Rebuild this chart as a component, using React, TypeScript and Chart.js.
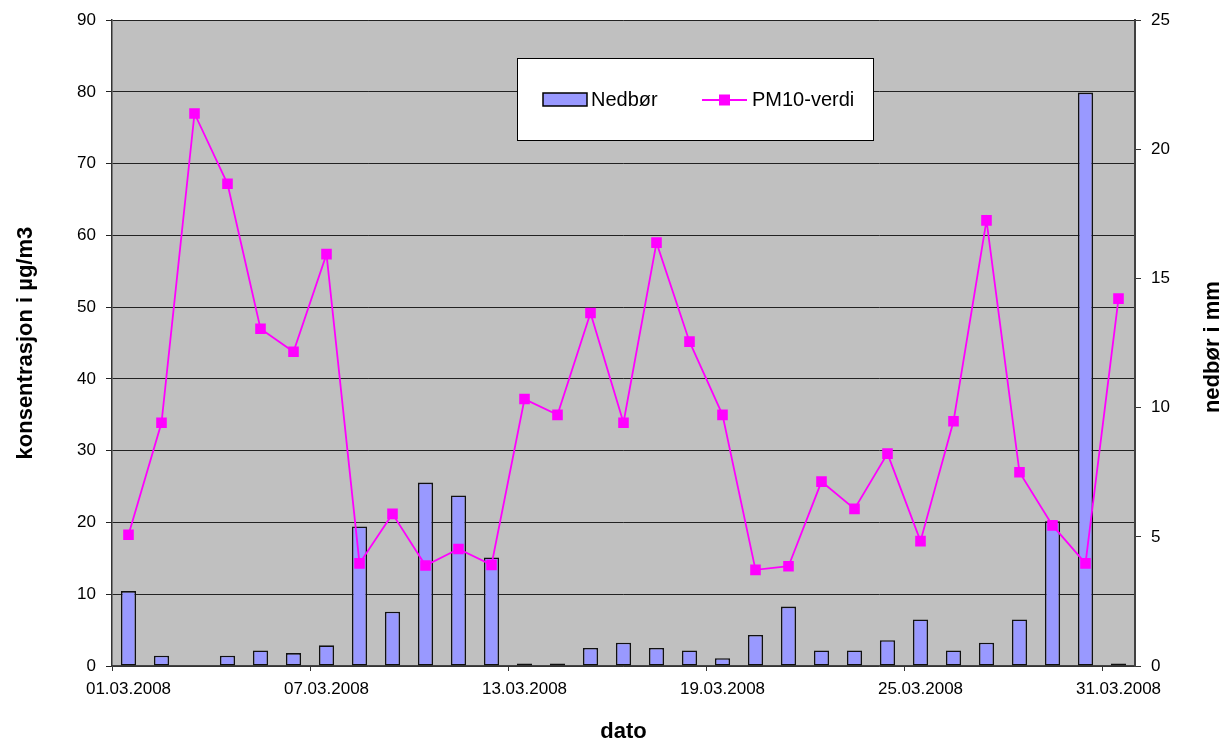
import { useEffect, useRef } from 'react';
import { Chart, registerables } from 'chart.js';

Chart.register(...registerables);

const categories = [
  '01.03.2008', '02.03.2008', '03.03.2008', '04.03.2008', '05.03.2008', '06.03.2008',
  '07.03.2008', '08.03.2008', '09.03.2008', '10.03.2008', '11.03.2008', '12.03.2008',
  '13.03.2008', '14.03.2008', '15.03.2008', '16.03.2008', '17.03.2008', '18.03.2008',
  '19.03.2008', '20.03.2008', '21.03.2008', '22.03.2008', '23.03.2008', '24.03.2008',
  '25.03.2008', '26.03.2008', '27.03.2008', '28.03.2008', '29.03.2008', '30.03.2008',
  '31.03.2008',
];

const pm10 = [
  18.3, 33.9, 77.0, 67.2, 47.0, 43.8, 57.4, 14.3, 21.2, 14.0, 16.3, 14.1, 37.2, 35.0,
  49.2, 33.9, 59.0, 45.2, 35.0, 13.4, 13.9, 25.7, 21.9, 29.6, 17.4, 34.1, 62.1, 27.0,
  19.6, 14.3, 51.2,
];

const nedbor = [
  2.9, 0.4, 0, 0.4, 0.6, 0.5, 0.8, 5.4, 2.1, 7.1, 6.6, 4.2, 0.1, 0.1, 0.7, 0.9, 0.7,
  0.6, 0.3, 1.2, 2.3, 0.6, 0.6, 1.0, 1.8, 0.6, 0.9, 1.8, 5.6, 22.2, 0.1,
];

const leftTicks = { min: 0, max: 90, step: 10 };
const rightTicks = { min: 0, max: 25, step: 5 };
const labelEvery = 6;
const rightTitle = 'nedbør i mm';

const FONT = "'Liberation Sans', Arial, sans-serif";

const plotPlugin = {
  id: 'plotBgLegend',
  beforeDraw(chart: any) {
    const { ctx, chartArea } = chart;
    ctx.save();
    ctx.fillStyle = '#C0C0C0';
    ctx.fillRect(chartArea.left, chartArea.top, chartArea.right - chartArea.left, chartArea.bottom - chartArea.top);
    ctx.restore();
  },
  afterDatasetsDraw(chart: any) {
    const { ctx, chartArea } = chart;
    const ds = chart.data.datasets;
    const bar = ds.find((d: any) => d.type === 'bar');
    const line = ds.find((d: any) => d.type === 'line');
    ctx.save();
    // legend box
    ctx.fillStyle = '#FFFFFF';
    ctx.fillRect(517, 58, 356, 82);
    ctx.strokeStyle = '#000000';
    ctx.lineWidth = 1;
    ctx.strokeRect(517.5, 58.5, 356, 82);
    // bar swatch
    ctx.fillStyle = bar.backgroundColor;
    ctx.fillRect(543, 93, 44, 13);
    ctx.lineWidth = 1.5;
    ctx.strokeStyle = '#000';
    ctx.strokeRect(543, 93, 44, 13);
    ctx.fillStyle = '#000';
    ctx.font = `20px ${FONT}`;
    ctx.textBaseline = 'alphabetic';
    ctx.textAlign = 'left';
    ctx.fillText(bar.label, 591, 106);
    // line swatch
    ctx.strokeStyle = line.borderColor;
    ctx.lineWidth = 1.8;
    ctx.beginPath();
    ctx.moveTo(702, 100);
    ctx.lineTo(747, 100);
    ctx.stroke();
    ctx.fillStyle = line.borderColor;
    ctx.fillRect(719, 94.5, 11, 11);
    ctx.fillStyle = '#000';
    ctx.fillText(line.label, 752, 106);
    // right axis title, reading bottom-to-top
    ctx.translate(1213, (chartArea.top + chartArea.bottom) / 2 + 4);
    ctx.rotate(-Math.PI / 2);
    ctx.font = `bold 22px ${FONT}`;
    ctx.textAlign = 'center';
    ctx.textBaseline = 'middle';
    ctx.fillText(rightTitle, 0, 0);
    ctx.restore();
  },
};

export default function App() {
  const ref = useRef<HTMLCanvasElement>(null);

  useEffect(() => {
    document.body.style.margin = '0';
    const chart = new Chart(ref.current as HTMLCanvasElement, {
      type: 'bar',
      data: {
        labels: categories,
        datasets: [
          {
            type: 'line',
            label: 'PM10-verdi',
            data: pm10,
            yAxisID: 'y',
            borderColor: '#FF00FF',
            backgroundColor: '#FF00FF',
            borderWidth: 1.8,
            pointStyle: 'rect',
            pointRadius: 7.5,
            pointBackgroundColor: '#FF00FF',
            pointBorderColor: '#FF00FF',
            pointBorderWidth: 0,
            tension: 0,
            order: 1,
          } as any,
          {
            type: 'bar',
            label: 'Nedbør',
            data: nedbor,
            yAxisID: 'y2',
            backgroundColor: '#9999FF',
            borderColor: '#111111',
            borderWidth: 1.6,
            borderSkipped: false,
            barPercentage: 0.46,
            categoryPercentage: 1,
            order: 2,
          } as any,
        ],
      },
      options: {
        responsive: false,
        animation: false,
        layout: { padding: { top: 20, left: 0, right: 0, bottom: 0 } },
        plugins: {
          legend: { display: false },
          tooltip: { enabled: false },
        },
        scales: {
          x: {
            type: 'category',
            offset: true,
            grid: {
              offset: true,
              drawOnChartArea: false,
              drawTicks: true,
              tickLength: 5,
              lineWidth: 1,
              color: (c: any) => (typeof c.index === 'number' && c.index % labelEvery === 0 ? '#333333' : 'rgba(0,0,0,0)'),
            },
            border: { display: true, color: '#444444', width: 1.5 },
            ticks: {
              autoSkip: false,
              maxRotation: 0,
              minRotation: 0,
              padding: 8,
              color: '#000',
              font: { family: FONT, size: 17 },
              callback: (_v: any, i: number) => (i % labelEvery === 0 ? categories[i] : ''),
            },
            title: {
              display: true,
              text: 'dato',
              color: '#000',
              font: { family: FONT, size: 22, weight: 'bold', lineHeight: 0.7 },
              padding: 0,
            },
            afterFit: (s: any) => {
              s.height = 74;
            },
          },
          y: {
            position: 'left',
            min: leftTicks.min,
            max: leftTicks.max,
            ticks: {
              stepSize: leftTicks.step,
              padding: 10,
              color: '#000',
              font: { family: FONT, size: 17 },
            },
            grid: { color: '#222222', lineWidth: 1, tickLength: 6, drawTicks: true },
            border: { display: true, color: '#333333', width: 1.5 },
            title: {
              display: true,
              text: 'konsentrasjon i µg/m3',
              color: '#000',
              font: { family: FONT, size: 22, weight: 'bold', lineHeight: 1 },
              padding: { top: 15, bottom: 0 },
            },
            afterFit: (s: any) => {
              s.width = 112;
            },
          },
          y2: {
            position: 'right',
            min: rightTicks.min,
            max: rightTicks.max,
            ticks: {
              stepSize: rightTicks.step,
              padding: 10,
              color: '#000',
              font: { family: FONT, size: 17 },
            },
            grid: { drawOnChartArea: false, drawTicks: true, tickLength: 6, color: '#333333', lineWidth: 1 },
            border: { display: true, color: '#404040', width: 2 },
            afterFit: (s: any) => {
              s.width = 89;
            },
          },
        },
      } as any,
      plugins: [plotPlugin],
    });
    return () => chart.destroy();
  }, []);

  return (
    <div style={{ width: 1224, height: 740, position: 'relative' }}>
      <canvas ref={ref} width={1224} height={740} style={{ display: 'block' }} />
    </div>
  );
}
